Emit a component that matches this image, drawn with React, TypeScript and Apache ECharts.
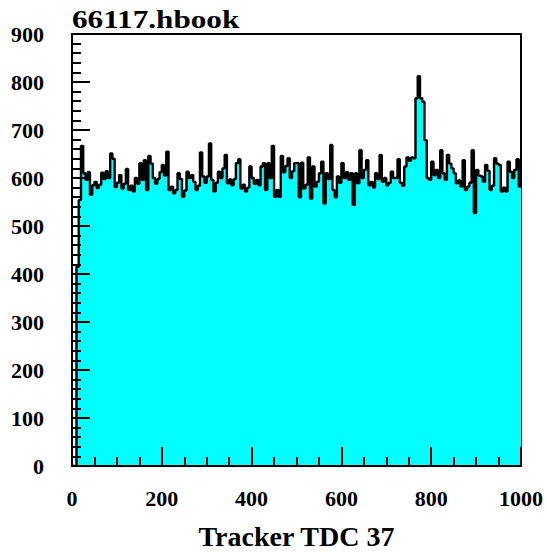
import React, { useEffect, useRef } from "react";
import * as echarts from "echarts";

// Histogram "Tracker TDC 37": 200 bins of width 5 over 0..1000
const binWidth = 5;
const counts: number[] = [
  // 0-50
  0, 0, 415, 554, 667, 610, 596, 612, 565, 585,
  // 50-100
  592, 579, 586, 611, 598, 614, 600, 651, 640, 581,
  // 100-150
  590, 606, 578, 588, 619, 575, 584, 572, 600, 588,
  // 150-200
  631, 596, 637, 575, 646, 630, 600, 588, 598, 612,
  // 200-250
  627, 605, 655, 575, 582, 568, 575, 610, 598, 561,
  // 250-300
  574, 613, 600, 606, 592, 575, 584, 653, 603, 590,
  // 300-350
  603, 672, 596, 572, 590, 613, 600, 620, 648, 589,
  // 350-400
  597, 585, 598, 631, 639, 578, 586, 572, 580, 624,
  // 400-450
  600, 588, 596, 585, 624, 631, 575, 631, 600, 667,
  // 450-500
  561, 575, 561, 646, 612, 625, 641, 600, 614, 631,
  // 500-550
  631, 560, 632, 578, 586, 643, 557, 624, 582, 592,
  // 550-600
  610, 634, 547, 610, 598, 669, 575, 560, 603, 590,
  // 600-650
  631, 600, 612, 596, 610, 544, 610, 589, 658, 600,
  // 650-700
  617, 637, 585, 592, 580, 610, 598, 648, 592, 600,
  // 700-750
  585, 590, 613, 600, 600, 639, 590, 584, 624, 643,
  // 750-800
  636, 643, 641, 766, 812, 766, 759, 679, 600, 596,
  // 800-850
  634, 606, 617, 600, 658, 610, 596, 648, 630, 620,
  // 850-900
  610, 589, 595, 582, 637, 575, 582, 590, 658, 527,
  // 900-950
  617, 605, 603, 592, 627, 615, 575, 584, 641, 630,
  // 950-1000
  627, 572, 580, 572, 634, 613, 600, 617, 639, 582,
];

const titleText = "66117.hbook";
const xTitle = "Tracker TDC 37";
const xMin = 0;
const xMax = 1000;
const yMin = 0;
const yMax = 900;

export default function App() {
  const ref = useRef<HTMLDivElement>(null);
  useEffect(() => {
    if (!ref.current) return;
    const chart = echarts.init(ref.current, undefined, { renderer: "svg" });
    const data: number[][] = counts.map((v, i) => [i * binWidth, v]);
    data.push([counts.length * binWidth, counts[counts.length - 1]]);
    const font = "'Liberation Serif', 'Times New Roman', serif";
    chart.setOption({
      animation: false,
      backgroundColor: "#ffffff",
      grid: {
        left: 72,
        right: 26,
        top: 34,
        bottom: 86,
        show: true,
        borderColor: "#000",
        borderWidth: 2,
        backgroundColor: "transparent",
        containLabel: false,
        outerBoundsMode: "none",
      },
      graphic: [
        {
          type: "text",
          x: 72,
          y: 6,
          scaleX: 1.2,
          style: {
            text: titleText,
            font: `bold 26px ${font}`,
            fill: "#000",
            textVerticalAlign: "top",
          },
        },
      ],
      xAxis: {
        type: "value",
        min: xMin,
        max: xMax,
        interval: 200,
        z: 10,
        name: xTitle,
        nameLocation: "middle",
        nameGap: 56,
        nameTextStyle: {
          fontFamily: font,
          fontWeight: "bold",
          fontSize: 28,
          color: "#000",
        },
        axisLine: { show: true, lineStyle: { color: "#000", width: 2 } },
        axisTick: { show: true, inside: true, length: 19, lineStyle: { color: "#000", width: 2 } },
        minorTick: { show: true, splitNumber: 4, length: 9, lineStyle: { color: "#000", width: 2 } },
        axisLabel: {
          margin: 21,
          fontFamily: font,
          fontWeight: "bold",
          fontSize: 22,
          color: "#000",
          formatter: (v: number) => String(v),
        },
        splitLine: { show: false },
      },
      yAxis: {
        type: "value",
        min: yMin,
        max: yMax,
        interval: 100,
        z: 10,
        axisLine: { show: true, lineStyle: { color: "#000", width: 2 } },
        axisTick: { show: true, inside: true, length: 18, lineStyle: { color: "#000", width: 2 } },
        minorTick: { show: true, splitNumber: 5, length: 9, lineStyle: { color: "#000", width: 2 } },
        axisLabel: {
          margin: 28,
          fontFamily: font,
          fontWeight: "bold",
          fontSize: 22,
          color: "#000",
        },
        splitLine: { show: false },
      },
      series: [
        {
          type: "line",
          step: "end",
          data,
          symbol: "none",
          lineStyle: { color: "#000", width: 2.4 },
          areaStyle: { color: "#00ffff", opacity: 1 },
          z: 2,
        },
      ],
    });
    return () => chart.dispose();
  }, []);
  return (
    <div
      ref={ref}
      style={{ position: "fixed", left: 0, top: 0, width: 547, height: 552 }}
    />
  );
}
